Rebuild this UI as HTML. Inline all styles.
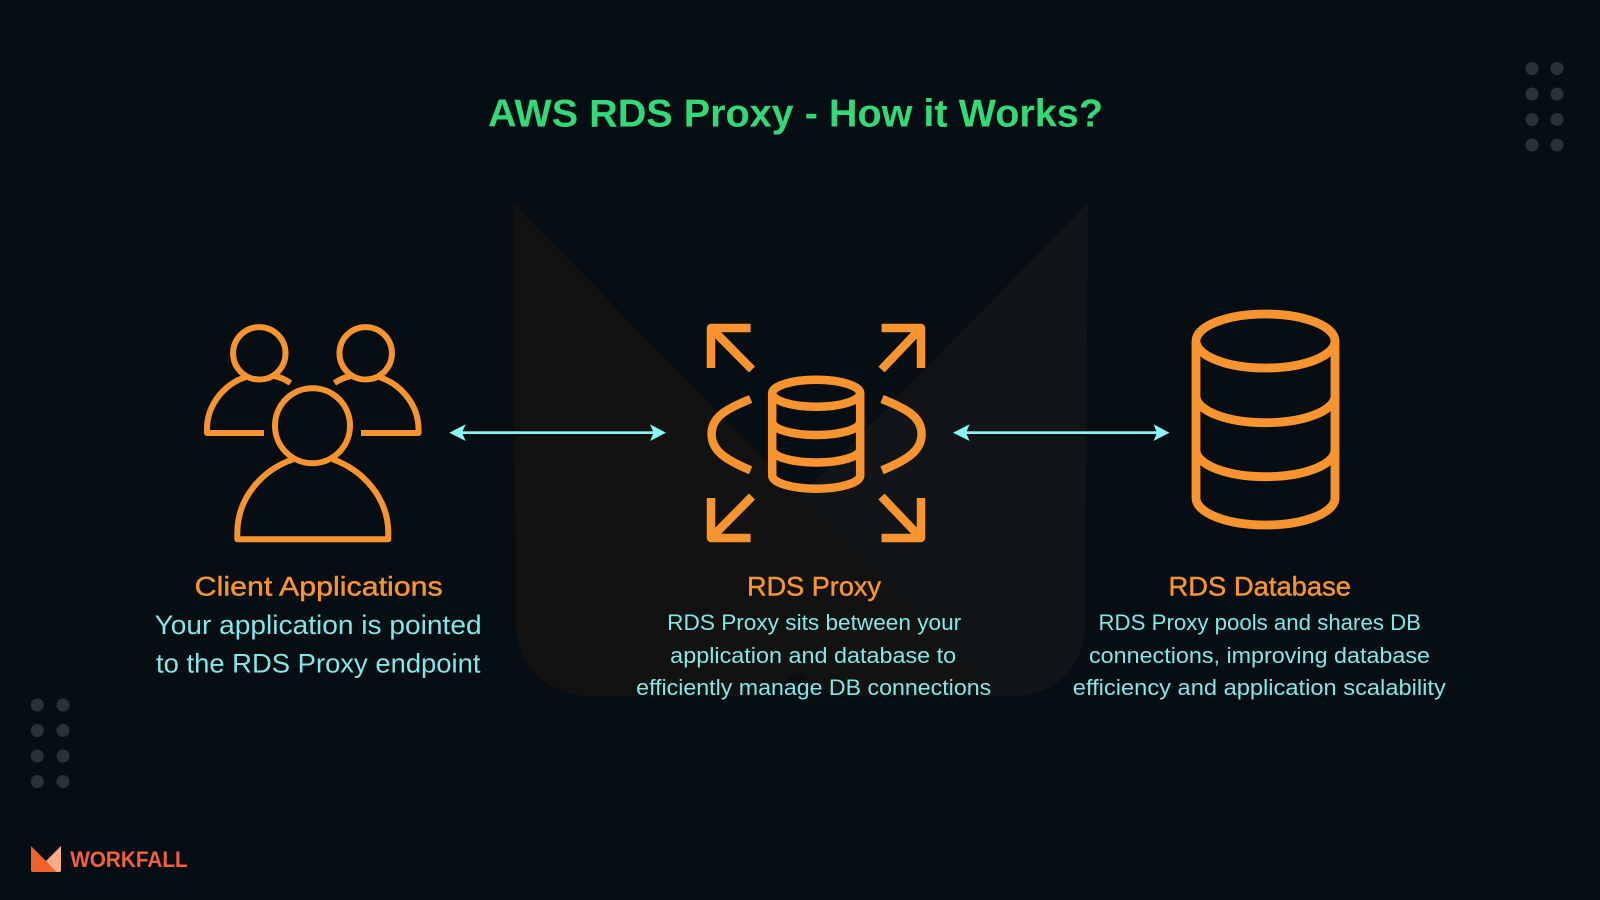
<!DOCTYPE html>
<html>
<head>
<meta charset="utf-8">
<style>
html,body{margin:0;padding:0;background:#060e14;width:1600px;height:900px;overflow:hidden}
svg{display:block}
text{font-family:"Liberation Sans",sans-serif}
.h{font-size:27px;fill:#f7942f;stroke:#f7942f;stroke-width:.45px}
.a{font-size:26.5px;fill:#84e6e6}
.b{font-size:22.5px;fill:#84e6e6}
.o{fill:none;stroke:#f7942f;stroke-linejoin:round;stroke-linecap:butt}
.arrow{fill:#8af5f5}
.dot{fill:#2a3138}
</style>
</head>
<body>
<svg width="1600" height="900" viewBox="0 0 1600 900" xmlns="http://www.w3.org/2000/svg">
<rect width="1600" height="900" fill="#060e14"/>

<!-- Background M watermark -->
<path d="M1088,203 L605,696 H1015 C1055,696 1085,665 1085,625 Z" fill="#111517"/>
<path d="M513,203 L996,696 H590 C548,696 516,665 516,625 Z" fill="#121212"/>
<path d="M758,697 L798,673 L838,697 Z" fill="#060e14"/>

<!-- Decorative dots -->
<g class="dot">
<circle cx="1532" cy="68.5" r="6.5"/><circle cx="1557" cy="68.5" r="6.5"/>
<circle cx="1532" cy="94" r="6.5"/><circle cx="1557" cy="94" r="6.5"/>
<circle cx="1532" cy="119.5" r="6.5"/><circle cx="1557" cy="119.5" r="6.5"/>
<circle cx="1532" cy="145" r="6.5"/><circle cx="1557" cy="145" r="6.5"/>
<circle cx="37.3" cy="705" r="6.5"/><circle cx="63" cy="705" r="6.5"/>
<circle cx="37.3" cy="730.5" r="6.5"/><circle cx="63" cy="730.5" r="6.5"/>
<circle cx="37.3" cy="756" r="6.5"/><circle cx="63" cy="756" r="6.5"/>
<circle cx="37.3" cy="781.5" r="6.5"/><circle cx="63" cy="781.5" r="6.5"/>
</g>

<!-- Title -->
<text x="488" y="126.5" font-size="38.5" font-weight="700" fill="#33d977" textLength="615" lengthAdjust="spacingAndGlyphs">AWS RDS Proxy - How it Works?</text>

<!-- Users icon -->
<g class="o" stroke-width="6">
<circle cx="259.3" cy="353.3" r="26.2"/>
<circle cx="365.7" cy="353.3" r="26.2"/>
<circle cx="312.5" cy="425.7" r="37.5"/>
<path d="M264,433H207V429C207,405 224,384 246,377"/>
<path d="M274,376C280,377 286,380 290.5,383"/>
<path d="M361,433H418.5V429C418.5,405 401,384 379,377"/>
<path d="M351,376C345,377 339,380 334.5,383"/>
<path d="M293,459.3C262,470 237.3,498 237.3,533V539.3H388.3V533C388.3,498 363,470 332.7,459.3"/>
</g>

<!-- Proxy icon -->
<g class="o" stroke-width="8.5">
<path d="M750.6,328H711V368"/><path d="M711,328L752,369.5"/>
<path d="M881.6,328H921V368"/><path d="M921,328L881.5,369.5"/>
<path d="M750.6,538H711V498"/><path d="M711,538L752,496.5"/>
<path d="M881.6,538H921V498"/><path d="M921,538L881.5,496.5"/>
<path d="M750.6,399C726,409 711.6,417 711.6,434C711.6,451 726,460 750.6,470.3"/>
<path d="M882,399C907,409 921.6,417 921.6,434C921.6,451 907,460 882,470.3"/>
<ellipse cx="816.2" cy="393.3" rx="44" ry="13.5"/>
<path d="M772.2,393.3V475.5A44,13.2 0 0 0 860.2,475.5V393.3"/>
<path d="M772.2,422A44,13 0 0 0 860.2,422"/>
<path d="M772.2,449.5A44,13 0 0 0 860.2,449.5"/>
</g>

<!-- Database icon -->
<g class="o" stroke-width="8.8">
<ellipse cx="1265.5" cy="341" rx="69.5" ry="27"/>
<path d="M1196,341V498A69.5,27 0 0 0 1335,498V341"/>
<path d="M1196,396A69.5,26.7 0 0 0 1335,396"/>
<path d="M1196,450A69.5,26.7 0 0 0 1335,450"/>
</g>

<!-- Connectors -->
<rect x="455" y="433.6" width="205" height="2" fill="#000"/>
<rect x="958" y="433.6" width="205" height="2" fill="#000"/>
<rect x="455" y="431.3" width="205" height="2.8" fill="#8af5f5"/>
<rect x="958" y="431.3" width="205" height="2.8" fill="#8af5f5"/>
<path class="arrow" d="M449.3,432.7L465.7,424.3L462,432.7L465.7,441Z"/>
<path class="arrow" d="M666,432.7L650,424.3L653.7,432.7L650,441Z"/>
<path class="arrow" d="M953,432.7L969.7,424.3L966,432.7L969.7,441Z"/>
<path class="arrow" d="M1169.5,432.7L1153.5,424.3L1157,432.7L1153.5,441Z"/>

<!-- Labels -->
<text class="h" x="194.7" y="595.5" textLength="248" lengthAdjust="spacingAndGlyphs">Client Applications</text>
<text class="a" x="154.6" y="634" textLength="327" lengthAdjust="spacingAndGlyphs">Your application is pointed</text>
<text class="a" x="156" y="672.5" textLength="324.5" lengthAdjust="spacingAndGlyphs">to the RDS Proxy endpoint</text>

<text class="h" x="747" y="595.5" textLength="134" lengthAdjust="spacingAndGlyphs">RDS Proxy</text>
<text class="b" x="667.2" y="630" textLength="294" lengthAdjust="spacingAndGlyphs">RDS Proxy sits between your</text>
<text class="b" x="670.2" y="663" textLength="286" lengthAdjust="spacingAndGlyphs">application and database to</text>
<text class="b" x="636.2" y="695" textLength="355" lengthAdjust="spacingAndGlyphs">efficiently manage DB connections</text>

<text class="h" x="1168.5" y="595.5" textLength="182.5" lengthAdjust="spacingAndGlyphs">RDS Database</text>
<text class="b" x="1098.5" y="630" textLength="322.5" lengthAdjust="spacingAndGlyphs">RDS Proxy pools and shares DB</text>
<text class="b" x="1089" y="663" textLength="341" lengthAdjust="spacingAndGlyphs">connections, improving database</text>
<text class="b" x="1072.8" y="695" textLength="373" lengthAdjust="spacingAndGlyphs">efficiency and application scalability</text>

<!-- Logo -->
<path d="M61,846L46,861L56,872H59.5Q61,872 61,870Z" fill="#ffab85"/>
<path d="M31,846L46,861L56.5,872H33Q31,872 31,870Z" fill="#f0622d"/>
<text x="70.2" y="866.8" font-size="22" font-weight="700" fill="#f2613f" textLength="117.5" lengthAdjust="spacingAndGlyphs">WORKFALL</text>
</svg>
</body>
</html>
